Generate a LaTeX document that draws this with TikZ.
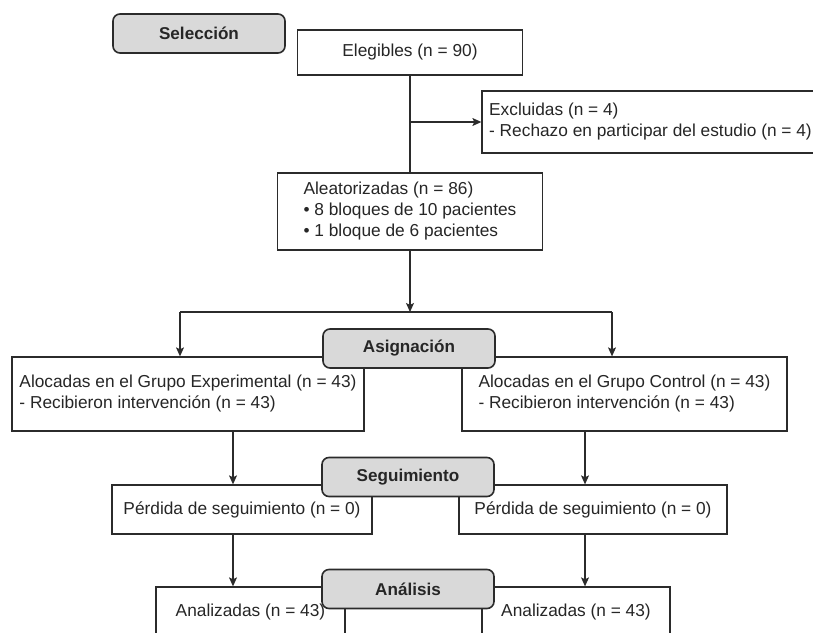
\documentclass[tikz,border=0pt]{standalone}
\usepackage{fontspec}
\setmainfont{Liberation Sans}
\usetikzlibrary{arrows.meta}
\definecolor{linegray}{HTML}{2B2B2B}
\definecolor{stagefill}{HTML}{D9D9D9}

\begin{document}
\begin{tikzpicture}[x=1pt, y=-1pt, >={Stealth[length=9pt,width=8pt,inset=2pt]},
  box/.style={draw=linegray, line width=1.3pt, fill=white, align=left, inner sep=0pt,
    text=black!85, font=\fontsize{17.3}{21}\selectfont},
  stage/.style={draw=linegray, line width=1.6pt, fill=stagefill, rounded corners=7pt,
    minimum width=172, minimum height=39, text=black!85,
    font=\fontsize{17.1}{20}\selectfont\bfseries},
  conn/.style={draw=linegray, line width=1.1pt}]
  \useasboundingbox (0,0) rectangle (813,632);
  \clip (0,0) rectangle (813,632);
  % boxes of the flow
  \node[box, minimum width=225, minimum height=45] (eleg) at (410,52.5) {Elegibles (n = 90)};
  \node[box, minimum width=337, minimum height=62] (excl) at (650.5,122)
    {Excluidas (n = 4)\\- Rechazo en participar del estudio (n = 4)};
  \node[box, minimum width=265, minimum height=77] (alea) at (410,211.5)
    {Aleatorizadas (n = 86)\\• 8 bloques de 10 pacientes\\• 1 bloque de 6 pacientes};
  \node[box, minimum width=352, minimum height=74] (aloL) at (188,394)
    {Alocadas en el Grupo Experimental (n = 43)\\- Recibieron intervención (n = 43)};
  \node[box, minimum width=325, minimum height=74] (aloR) at (624.5,394)
    {Alocadas en el Grupo Control (n = 43)\\- Recibieron intervención (n = 43)};
  \node[box, minimum width=260, minimum height=49] (perL) at (242,509.5) {Pérdida de seguimiento (n = 0)};
  \node[box, minimum width=268, minimum height=49] (perR) at (593,509.5) {Pérdida de seguimiento (n = 0)};
  \node[box, minimum width=189, minimum height=50] (anaL) at (250.5,612) {Analizadas (n = 43)};
  \node[box, minimum width=188, minimum height=50] (anaR) at (576,612) {Analizadas (n = 43)};
  % connectors
  \coordinate (splitL) at (180,312);
  \coordinate (splitR) at (612,312);
  \coordinate (colL) at (233,0);
  \coordinate (colR) at (585,0);
  \draw[conn] (eleg.south) -- (alea.north);
  \draw[conn,->] (eleg.south |- excl.west) -- (excl.west);
  \draw[conn,->] (alea.south) -- (alea.south |- splitL);
  \draw[conn] (splitL) -- (splitR);
  \draw[conn,->] (splitL) -- (splitL |- aloL.north);
  \draw[conn,->] (splitR) -- (splitR |- aloR.north);
  \draw[conn,->] (colL |- aloL.south) -- (colL |- perL.north);
  \draw[conn,->] (colR |- aloR.south) -- (colR |- perR.north);
  \draw[conn,->] (colL |- perL.south) -- (colL |- anaL.north);
  \draw[conn,->] (colR |- perR.south) -- (colR |- anaR.north);
  % stage labels on top
  \node[stage] (sel) at (199,33.5) {Selección};
  \node[stage] (asig) at (409,348.5) {Asignación};
  \node[stage] (segu) at (408,477) {Seguimiento};
  \node[stage] (anal) at (408,589) {Análisis};
\end{tikzpicture}
\end{document}
